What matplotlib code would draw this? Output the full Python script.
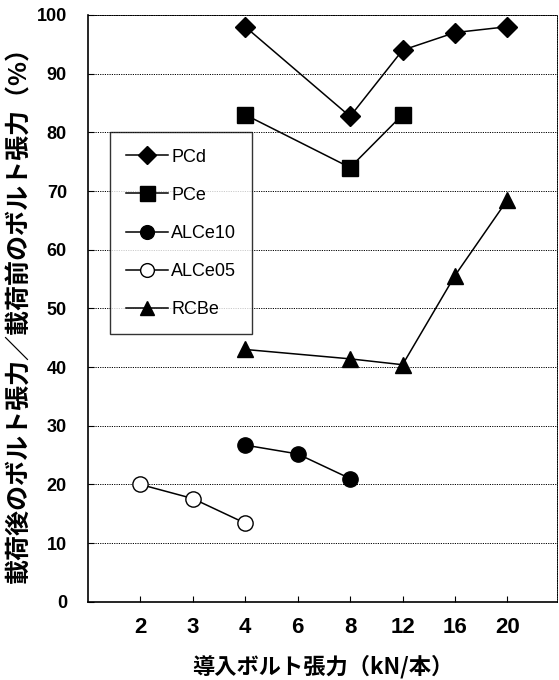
import matplotlib.pyplot as plt

plt.rcParams['font.family'] = ['Noto Sans CJK JP', 'DejaVu Sans']

# --- categories (x-axis, equally spaced) ---
x_labels = ["2", "3", "4", "6", "8", "12", "16", "20"]
x_pos = {lab: i + 1 for i, lab in enumerate(x_labels)}

# --- series ---
pcd_x = ["4", "8", "12", "16", "20"]
pcd_y = [98, 82.7, 94, 97, 98]

pce_x = ["4", "8", "12"]
pce_y = [83, 74, 83]

alce10_x = ["4", "6", "8"]
alce10_y = [26.7, 25.2, 21]

alce05_x = ["2", "3", "4"]
alce05_y = [20, 17.6, 13.4]

rcbe_x = ["4", "8", "12", "16", "20"]
rcbe_y = [43, 41.4, 40.4, 55.6, 68.5]

fig = plt.figure(figsize=(5.59, 6.8), dpi=100)
ax = fig.add_axes([0.157, 0.115, 0.84, 0.863])

series = [
    (pcd_x, pcd_y, "PCd", "D", 10, "black"),
    (pce_x, pce_y, "PCe", "s", 12, "black"),
    (alce10_x, alce10_y, "ALCe10", "o", 11, "black"),
    (alce05_x, alce05_y, "ALCe05", "o", 11, "white"),
    (rcbe_x, rcbe_y, "RCBe", "^", 11, "black"),
]
for xs, ys, label, marker, ms, fc in series:
    ax.plot([x_pos[v] for v in xs], ys, color="black", linewidth=1.1,
            marker=marker, markersize=ms, markerfacecolor=fc,
            markeredgecolor="black", markeredgewidth=1.0, label=label)

ax.set_xlim(0, 8.95)
ax.set_ylim(0, 100)
ax.set_xticks(range(1, len(x_labels) + 1))
ax.set_xticklabels(x_labels)
ax.set_yticks(range(0, 101, 10))
ax.tick_params(direction="in", length=4)
for lab in ax.get_yticklabels():
    lab.set_fontfamily(["Liberation Sans", "DejaVu Sans"])
    lab.set_fontweight("bold")
    lab.set_fontsize(13)
for lab in ax.get_xticklabels():
    lab.set_fontfamily(["Liberation Sans Narrow", "Liberation Sans", "DejaVu Sans"])
    lab.set_fontweight("bold")
    lab.set_fontsize(16)
ax.tick_params(axis="x", pad=11)
ax.tick_params(axis="y", pad=15)

ax.yaxis.grid(True, linestyle=(0, (1.2, 1.2)), color="black", linewidth=0.7)
ax.set_axisbelow(True)
for side in ["top", "right"]:
    ax.spines[side].set_linestyle((0, (1.2, 1.2)))
    ax.spines[side].set_linewidth(0.7)
for side in ["left", "bottom"]:
    ax.spines[side].set_linewidth(1.2)

ax.set_ylabel("載荷後のボルト張力／載荷前のボルト張力（%）", fontsize=18,
              fontweight="bold", labelpad=4)
ax.set_xlabel("導入ボルト張力（kN/本）", fontsize=16, fontweight="bold",
              labelpad=12)

leg = ax.legend(loc="upper left", bbox_to_anchor=(0.047, 0.80), fontsize=13,
                frameon=True, fancybox=False, edgecolor="black",
                borderaxespad=0, borderpad=0.9, labelspacing=1.17,
                handlelength=2.3, handletextpad=0.2, markerscale=0.9)
leg.get_frame().set_linewidth(1.0)
for t in leg.get_texts():
    t.set_fontfamily(["Liberation Sans", "DejaVu Sans"])

fig.savefig("out.png", dpi=100)
